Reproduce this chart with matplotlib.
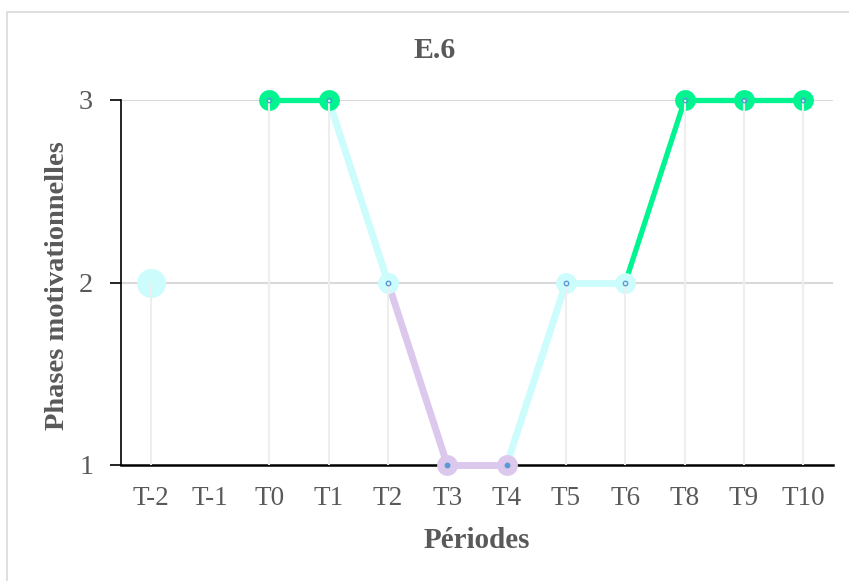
import numpy as np
import matplotlib
matplotlib.use("Agg")
import matplotlib.pyplot as plt
from matplotlib.patches import Rectangle

# ---- data ----
periods = ["T-2", "T-1", "T0", "T1", "T2", "T3", "T4", "T5", "T6", "T8", "T9", "T10"]
phases = [2, np.nan, 3, 3, 2, 1, 1, 2, 2, 3, 3, 3]
y_ticks = [1, 2, 3]
title = "E.6"
x_label = "Périodes"
y_label = "Phases motivationnelles"

# ---- style ----
GREEN = "#00F590"
CYAN = "#CCFCFC"
LAVENDER = "#DCC8EC"
BLUE = "#5B9BD5"
TEXT = "#595959"
phase_color = {1: LAVENDER, 2: CYAN, 3: GREEN}
phase_lw = {1: 5.0, 2: 5.0, 3: 3.8}

plt.rcParams["font.family"] = ["Liberation Serif", "DejaVu Serif"]

W, H = 849, 581
fig = plt.figure(figsize=(W / 100, H / 100), dpi=100)
fig.patch.set_facecolor("white")

# outer chart frame
fig.patches.append(Rectangle((7 / W, -0.2), 1.2, 1 - 12 / H + 0.2,
                             transform=fig.transFigure, fill=False,
                             edgecolor="#D9D9D9", linewidth=1.2))

left, right, top, bottom = 121 / W, 833 / W, 100 / H, 465 / H
ax = fig.add_axes([left, 1 - bottom, right - left, bottom - top])

x = np.arange(len(periods))
vals = np.array(phases, dtype=float)

ax.set_xlim(-0.5, len(periods) - 0.5)
ax.set_ylim(1, 3)

# horizontal gridlines
for yv in y_ticks[1:]:
    ax.axhline(yv, color="#D9D9D9", lw=1.5, zorder=1)

# line segments coloured by the value they reach
for i in range(len(vals) - 1):
    a, b = vals[i], vals[i + 1]
    if np.isnan(a) or np.isnan(b):
        continue
    ax.plot([x[i], x[i + 1]], [a, b], color=phase_color[int(b)],
            lw=phase_lw[int(b)], solid_capstyle="butt", zorder=3, clip_on=False)

# markers
for i, v in enumerate(vals):
    if np.isnan(v):
        continue
    isolated = (i == 0 or np.isnan(vals[i - 1])) and (i == len(vals) - 1 or np.isnan(vals[i + 1]))
    ms = 21 if isolated else 15
    ax.plot(x[i], v, "o", ms=ms, color=phase_color[int(v)], mec="none",
            zorder=4, clip_on=False)

# drop lines
mask = ~np.isnan(vals)
ax.vlines(x[mask], 1, vals[mask], color="#EEEEEE", lw=1.5, zorder=5, clip_on=False)

# small blue centres
for i, v in enumerate(vals):
    if np.isnan(v):
        continue
    isolated = (i == 0 or np.isnan(vals[i - 1])) and (i == len(vals) - 1 or np.isnan(vals[i + 1]))
    if isolated:
        continue
    face = BLUE if v == 1 else "none"
    ax.plot(x[i], v, "o", ms=3.2, mfc=face, mec=BLUE, mew=1.0, zorder=6, clip_on=False)

# spines
for s in ["top", "right"]:
    ax.spines[s].set_visible(False)
ax.spines["left"].set_color("black")
ax.spines["left"].set_linewidth(1.2)
ax.spines["bottom"].set_color("black")
ax.spines["bottom"].set_linewidth(1.8)
ax.spines["bottom"].set_zorder(2)

ax.set_xticks(x)
ax.set_xticklabels(periods)
ax.set_yticks(y_ticks)
ax.set_yticklabels([str(t) for t in y_ticks])
ax.tick_params(axis="x", length=0, pad=15, labelsize=19.5, labelcolor=TEXT)
ax.tick_params(axis="y", length=8, width=1.2, direction="out", pad=12,
               labelsize=20.5, labelcolor=TEXT)

fig.text(435 / W, 1 - 51 / H, title, ha="center", va="center",
         fontsize=21.5, fontweight="bold", color=TEXT)
fig.text(477 / W, 1 - 540 / H, x_label, ha="center", va="center",
         fontsize=21, fontweight="bold", color=TEXT)
fig.text(58 / W, 1 - 286 / H, y_label, ha="center", va="center",
         rotation=90, fontsize=20.5, fontweight="bold", color=TEXT)

fig.savefig("out.png", dpi=100, facecolor="white")
